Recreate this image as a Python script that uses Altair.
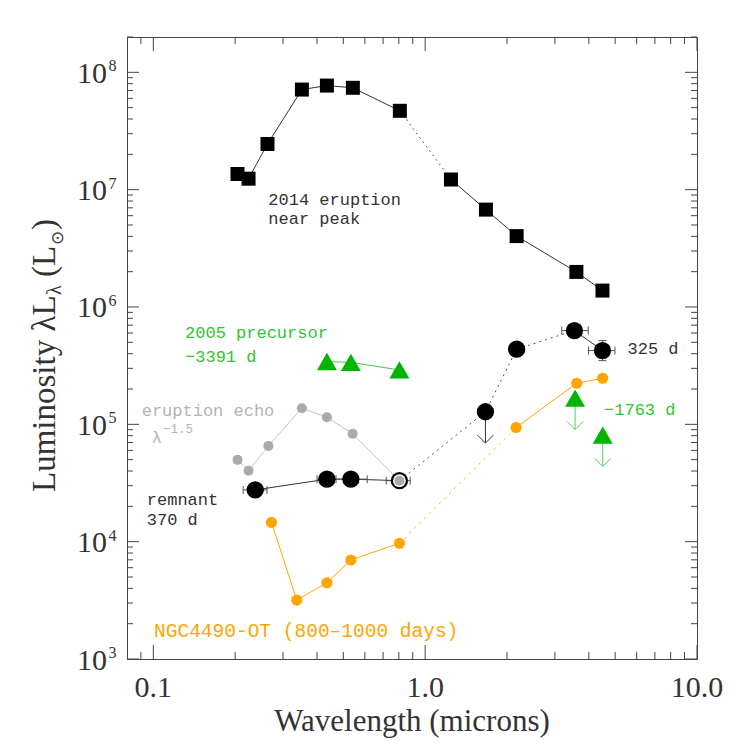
import altair as alt
import pandas as pd

# ---------------- data ----------------
# 2014 eruption near peak (filled squares)
erupt_wl = [0.204, 0.224, 0.263, 0.352, 0.435, 0.542, 0.807, 1.244, 1.673, 2.17, 3.60, 4.49]
erupt_lum = [1.36e7, 1.24e7, 2.45e7, 7.13e7, 7.71e7, 7.38e7, 4.70e7, 1.22e7, 6.76e6, 4.02e6, 1.99e6, 1.38e6]

# remnant at 370 d (HST, black circles) with band half-widths
rem_wl = [0.237, 0.435, 0.533, 0.804]
rem_lum = [2.76e4, 3.41e4, 3.41e4, 3.31e4]
rem_wl_lo = [0.214, 0.40, 0.46, 0.719]
rem_wl_hi = [0.262, 0.47, 0.612, 0.881]

# infrared at 325 d (first point is an upper limit)
ir_wl = [1.666, 2.17, 3.54, 4.49]
ir_lum = [1.28e5, 4.37e5, 6.3e5, 4.25e5]
ir_err_wl = [3.54, 4.49]
ir_err_lum = [6.3e5, 4.25e5]
ir_err_lo = [3.18, 3.99]
ir_err_hi = [3.98, 4.99]
ir_yerr_lo = [3.49e5]
ir_yerr_hi = [5.17e5]

# eruption light echo, scaled by lambda^-1.5 (gray)
echo_wl = [0.204, 0.224, 0.265, 0.352, 0.435, 0.541, 0.804]
echo_lum = [4.98e4, 4.03e4, 6.55e4, 1.37e5, 1.15e5, 8.3e4, 3.31e4]

# 2005 precursor, -3391 d (green triangles)
pre_wl = [0.435, 0.533, 0.804]
pre_lum = [3.43e5, 3.37e5, 2.91e5]

# precursor upper limits, -1763 d
lim_wl = [3.56, 4.50]
lim_lum = [1.67e5, 8.1e4]

# NGC4490-OT at 800-1000 days (orange)
ot_wl = [0.272, 0.337, 0.435, 0.533, 0.804, 2.16, 3.61, 4.50]
ot_lum = [1.46e4, 3.18e3, 4.46e3, 6.98e3, 9.7e3, 9.4e4, 2.24e5, 2.47e5]

# axis ticks
x_major = [0.1, 1.0, 10.0]
x_minor = [0.09, 0.2, 0.3, 0.4, 0.5, 0.6, 0.7, 0.8, 0.9, 2, 3, 4, 5, 6, 7, 8, 9]
y_major = [1e3, 1e4, 1e5, 1e6, 1e7, 1e8]
y_minor = [m * 10 ** e for e in range(3, 8) for m in range(2, 10)] + [2e8]

# annotations: text, anchor wavelength, anchor luminosity
black_text = ["2014 eruption", "near peak", "remnant", "370 d", "325 d"]
black_wl = [0.2649, 0.2649, 0.0946, 0.0946, 5.55]
black_lum = [7.42e6, 5.1e6, 2.06e4, 1.39e4, 3.98e5]

green_text = ["2005 precursor", "\u22123391 d", "\u22121763 d"]
green_wl = [0.1308, 0.1308, 4.55]
green_lum = [5.42e5, 3.42e5, 1.20e5]

# ---------------- style ----------------
W, H = 570, 622
FRAME = "#444444"
TXT = "#333333"
SERIF = "Liberation Serif"
ANNO = "Liberation Mono"
ORANGE = "#FFA500"
GREEN = "#00B400"
LGREEN = "#33C433"
GRAY = "#AAAAAA"

xs = alt.Scale(type="log", domain=[0.08, 10.0], nice=False)
ys = alt.Scale(type="log", domain=[1e3, 2e8], nice=False)


def X(field="wl"):
    return alt.X(f"{field}:Q", scale=xs, axis=None)


def Y(field="lum"):
    return alt.Y(f"{field}:Q", scale=ys, axis=None)


def frame(d):
    return pd.DataFrame(d)


layers = []

# ---- inward ticks on all four sides
def xticks(vals, length):
    base = alt.Chart(frame({"wl": vals}))
    return [
        base.mark_rule(color=FRAME, strokeWidth=1).encode(x=X(), y=alt.value(H), y2=alt.value(H - length)),
        base.mark_rule(color=FRAME, strokeWidth=1).encode(x=X(), y=alt.value(0), y2=alt.value(length)),
    ]


def yticks(vals, length):
    base = alt.Chart(frame({"lum": vals}))
    return [
        base.mark_rule(color=FRAME, strokeWidth=1).encode(y=Y(), x=alt.value(0), x2=alt.value(length)),
        base.mark_rule(color=FRAME, strokeWidth=1).encode(y=Y(), x=alt.value(W), x2=alt.value(W - length)),
    ]


layers += xticks(x_major, 14) + xticks(x_minor, 7) + yticks(y_major, 12) + yticks(y_minor, 6)

# ---- tick labels
layers.append(
    alt.Chart(frame({"wl": x_major})).mark_text(
        font=SERIF, fontSize=30, color=TXT, align="center", baseline="alphabetic"
    ).encode(x=X(), y=alt.value(H + 38), text=alt.Text("wl:Q", format=".1f"))
)
ylab = alt.Chart(frame({"lum": y_major})).transform_calculate(
    exp="round(log(datum.lum) / LN10)"
)
layers.append(
    ylab.mark_text(font=SERIF, fontSize=30, color=TXT, align="right", baseline="alphabetic", dy=10.5)
    .encode(x=alt.value(-20), y=Y(), text=alt.value("10"))
)
layers.append(
    ylab.mark_text(font=SERIF, fontSize=16, color=TXT, align="left", baseline="alphabetic", dy=-1)
    .encode(x=alt.value(-18.5), y=Y(), text=alt.Text("exp:Q", format="d"))
)

# ---- axis titles
layers.append(
    alt.Chart(frame({"a": [0]})).mark_text(
        text="Wavelength (microns)", font=SERIF, fontSize=31, color=TXT, align="center", baseline="alphabetic"
    ).encode(x=alt.value(W / 2), y=alt.value(H + 72))
)
# rotated y title built from pieces so the subscripts sit below the baseline
ytitle_parts = [
    ("Luminosity \u03bbL", SERIF, 33, 0, 0),
    ("\u03bb", SERIF, 20, 6, 197),
    ("(L", SERIF, 33, 0, 215),
    ("\u2299", SERIF, 17, 8, 247),
    (")", SERIF, 33, 0, 262),
]
for txt, fnt, fs, shift, up in ytitle_parts:
    layers.append(
        alt.Chart(frame({"a": [0]})).mark_text(
            text=txt, font=fnt, fontSize=fs, color=TXT, align="left", baseline="alphabetic", angle=270
        ).encode(x=alt.value(-72 + shift), y=alt.value(455 - up))
    )


# ---- connecting lines
def line(df, color, dash=None, width=1.0):
    kw = dict(color=color, strokeWidth=width)
    if dash:
        kw["strokeDash"] = dash
    return alt.Chart(df).mark_line(**kw).encode(x=X(), y=Y(), order=alt.Order("wl:Q"))


erupt = frame({"wl": erupt_wl, "lum": erupt_lum})
rem = frame({"wl": rem_wl, "lum": rem_lum})
ir = frame({"wl": ir_wl, "lum": ir_lum})
echo = frame({"wl": echo_wl, "lum": echo_lum})
pre = frame({"wl": pre_wl, "lum": pre_lum})
lim = frame({"wl": lim_wl, "lum": lim_lum})
ot = frame({"wl": ot_wl, "lum": ot_lum})
rem_to_ir = frame({"wl": [rem_wl[-1]] + ir_wl[:3], "lum": [rem_lum[-1]] + ir_lum[:3]})

layers += [
    line(echo, "#C4C4C4"),
    line(erupt.iloc[:7], "#333333"),
    line(erupt.iloc[6:8], "#333333", dash=[1.5, 4]),
    line(erupt.iloc[7:], "#333333"),
    line(rem, "#333333"),
    line(rem_to_ir, "#555555", dash=[2, 4]),
    line(ir.iloc[2:], "#333333"),
    line(ot.iloc[:5], ORANGE),
    line(ot.iloc[4:6], ORANGE, dash=[2, 5]),
    line(ot.iloc[5:], ORANGE),
    line(pre, "#44C844"),
]

# ---- error bars
def xerr(wl, lum, lo, hi, color="#555555"):
    df = frame({"wl": wl, "lum": lum, "lo": lo, "hi": hi})
    base = alt.Chart(df)
    return [
        base.mark_rule(color=color, strokeWidth=1).encode(x=X("lo"), x2=alt.X2("hi:Q"), y=Y()),
        base.transform_fold(["lo", "hi"], as_=["end", "edge"]).mark_tick(
            orient="vertical", size=8, thickness=1, color=color, opacity=1
        ).encode(x=X("edge"), y=Y()),
    ]


layers += xerr(rem_wl, rem_lum, rem_wl_lo, rem_wl_hi)
layers += xerr(ir_err_wl, ir_err_lum, ir_err_lo, ir_err_hi)
yerr = alt.Chart(frame({"wl": ir_wl[3:], "lo": ir_yerr_lo, "hi": ir_yerr_hi}))
layers += [
    yerr.mark_rule(color="#555555", strokeWidth=1).encode(x=X(), y=Y("lo"), y2=alt.Y2("hi:Q")),
    yerr.transform_fold(["lo", "hi"], as_=["end", "edge"]).mark_tick(
        orient="horizontal", size=8, thickness=1, color="#555555", opacity=1
    ).encode(x=X(), y=Y("edge")),
]

# ---- upper-limit arrows
def arrows(df, color):
    base = alt.Chart(df).transform_calculate(tip="datum.lum / 1.85")
    return [
        base.mark_rule(color=color, strokeWidth=1).encode(x=X(), y=Y(), y2=alt.Y2("tip:Q")),
        base.mark_point(shape="M-1,-1L0,0L1,-1", size=256, filled=False, color=color, strokeWidth=1, opacity=1)
        .encode(x=X(), y=Y("tip")),
    ]


layers += arrows(ir.iloc[:1], "#333333")
layers += arrows(lim, "#55CC55")

# ---- markers
def points(df, shape, size, color):
    return alt.Chart(df).mark_point(
        shape=shape, size=size, filled=True, color=color, opacity=1, strokeWidth=0
    ).encode(x=X(), y=Y())


layers += [
    points(erupt, "square", 196, "#000000"),
    points(ot, "circle", 125, ORANGE),
    points(rem, "circle", 300, "#000000"),
    points(rem.iloc[3:], "circle", 165, "#FFFFFF"),
    points(echo, "circle", 100, GRAY),
    points(ir, "circle", 300, "#000000"),
    points(pre, "triangle-up", 400, GREEN),
    points(lim, "triangle-up", 400, GREEN),
]

# ---- annotations
def labels(texts, wls, lums, color, size=17):
    return [
        alt.Chart(frame({"wl": [w], "lum": [l]})).mark_text(
            text=t, font=ANNO, fontSize=size, color=color, align="left", baseline="alphabetic"
        ).encode(x=X(), y=Y())
        for t, w, l in zip(texts, wls, lums)
    ]


layers += labels(black_text, black_wl, black_lum, TXT)
layers += labels(green_text, green_wl, green_lum, LGREEN)
layers += labels(["eruption echo", "\u03bb"], [0.0906, 0.0987], [1.18e5, 6.98e4], "#B4B4B4")
layers += labels(["\u22121.5"], [0.1086], [8.5e4], "#B4B4B4", size=12.5)
layers += labels(["NGC4490-OT (800\u20131000 days)"], [0.1006], [1.55e3], ORANGE, size=19.5)

chart = (
    alt.layer(*layers)
    .properties(
        width=W,
        height=H,
        autosize=alt.AutoSizeParams(type="none"),
        padding={"left": 127, "top": 37, "right": 53, "bottom": 91},
    )
    .configure_view(stroke=FRAME, strokeWidth=1)
)

chart.save("out.html", embed_options={"renderer": "svg", "actions": False})
